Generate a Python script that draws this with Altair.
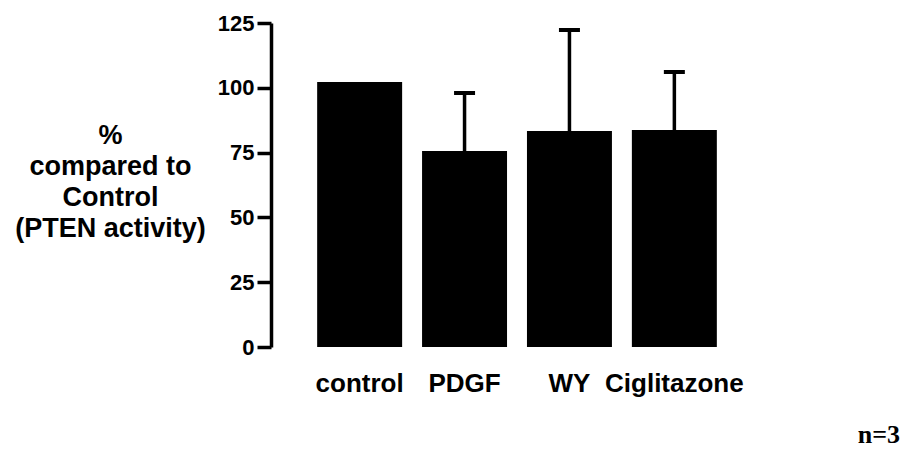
import altair as alt
import pandas as pd

categories = ["control", "PDGF", "WY", "Ciglitazone"]
values = [102.2, 75.6, 83.3, 83.7]
upper = [None, 98.0, 122.3, 106.1]
y_ticks = [0, 25, 50, 75, 100, 125]
y_title = ["%", "compared to", "Control", "(PTEN activity)"]
note = "n=3"

df = pd.DataFrame({"cat": categories, "val": values, "up": upper})

FONT = "Liberation Sans"

x = alt.X("cat:N", sort=categories,
          scale=alt.Scale(paddingInner=0.19, paddingOuter=0.44),
          axis=alt.Axis(title=None, domain=False, ticks=False, tickSize=0,
                        labelAngle=0, labelFont=FONT, labelFontSize=26,
                        labelFontWeight="bold", labelColor="black",
                        labelBaseline="alphabetic", labelPadding=44))

y = alt.Y("val:Q", scale=alt.Scale(domain=[0, 125], nice=False, zero=True),
          axis=alt.Axis(values=y_ticks, title=y_title, grid=False,
                        domainColor="black", domainWidth=3.5,
                        tickColor="black", tickWidth=3.5, tickSize=14,
                        labelFont=FONT, labelFontSize=22, labelFontWeight="bold",
                        labelColor="black", labelPadding=3,
                        titleAngle=0, titleAlign="center", titleBaseline="alphabetic",
                        titleX=-161, titleY=120, titleLineHeight=31,
                        titleFont=FONT, titleFontSize=27, titleFontWeight="bold",
                        titleColor="black"))

bars = alt.Chart(df).mark_bar(color="black", opacity=1).encode(x=x, y=y)

err_df = df.dropna(subset=["up"])
rules = alt.Chart(err_df).mark_rule(color="black", strokeWidth=3.5, opacity=1).encode(
    x=alt.X("cat:N", sort=categories), y="val:Q", y2="up:Q")
caps = alt.Chart(err_df).mark_tick(color="black", size=21, thickness=4, opacity=1).encode(
    x=alt.X("cat:N", sort=categories), y="up:Q")

note_df = pd.DataFrame({"t": [note]})
note_mark = alt.Chart(note_df).mark_text(
    font="Liberation Serif", fontSize=26, fontWeight="bold", color="black",
    align="right", baseline="alphabetic").encode(
    text="t:N", x=alt.value(629), y=alt.value(420))

chart = alt.layer(bars, rules, caps, note_mark).properties(
    width=492, height=324,
    background="white",
    autosize=alt.AutoSizeParams(type="none"),
    padding={"left": 263, "top": 15, "right": 139, "bottom": 102},
).configure_view(strokeWidth=0, stroke=None)

chart.save("out.html", embed_options={"renderer": "svg", "actions": False})
